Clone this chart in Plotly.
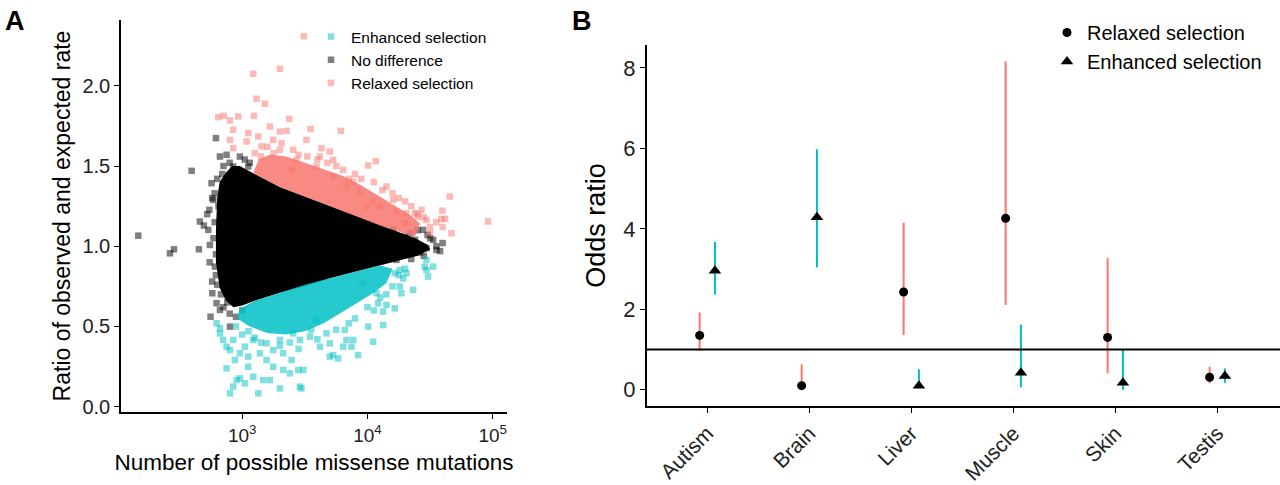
import numpy as np
import plotly.graph_objects as go

# ---------------- Panel A data (log10 of possible missense mutations, ratio) -------------
# dense cores of the three groups (outline of the solid point clouds)
core_nodiff_logx = [2.80, 2.82, 2.87, 2.92, 2.98, 3.05, 3.10, 3.30, 3.50, 3.70, 3.90, 4.10, 4.25, 4.38,
                    4.48, 4.50, 4.40, 4.25, 4.10, 3.90, 3.70, 3.50, 3.30, 3.10, 3.00, 2.93, 2.87, 2.82,
                    2.79, 2.79]
core_nodiff_y = [1.30, 1.40, 1.46, 1.50, 1.50, 1.47, 1.45, 1.37, 1.31, 1.25, 1.19, 1.13, 1.09, 1.05,
                 1.01, 0.98, 0.94, 0.91, 0.88, 0.84, 0.80, 0.75, 0.71, 0.66, 0.63, 0.62, 0.66, 0.74,
                 0.90, 1.10]

core_relaxed_logx = [3.09, 3.13, 3.22, 3.35, 3.50, 3.65, 3.80, 3.95, 4.10, 4.22, 4.35, 4.42, 4.38,
                     4.25, 4.10, 3.90, 3.70, 3.50, 3.30, 3.10]
core_relaxed_y = [1.46, 1.54, 1.57, 1.56, 1.52, 1.48, 1.44, 1.38, 1.31, 1.25, 1.19, 1.14, 1.06,
                  1.09, 1.13, 1.19, 1.25, 1.31, 1.37, 1.45]

core_enhanced_logx = [2.98, 3.10, 3.30, 3.50, 3.70, 3.90, 4.10, 4.20, 4.15, 4.05, 3.95, 3.80, 3.65,
                      3.50, 3.35, 3.20, 3.06, 2.96]
core_enhanced_y = [0.61, 0.66, 0.71, 0.76, 0.80, 0.84, 0.88, 0.86, 0.77, 0.71, 0.66, 0.59, 0.52,
                   0.47, 0.45, 0.46, 0.50, 0.55]

# individually visible genes around the cores
nodiff_pts = [
    (2.170, 1.066), (2.423, 0.956), (2.455, 0.981), (2.596, 1.470), (2.654, 0.981), (2.662, 1.154),
    (2.694, 1.129), (2.729, 1.102), (2.742, 1.008), (2.747, 0.561), (2.790, 1.674), (2.875, 1.570),
    (2.755, 1.393), (2.769, 1.289), (2.737, 1.227), (2.782, 0.873), (2.761, 0.707), (2.795, 0.645),
    (2.822, 0.603), (2.902, 0.499), (2.928, 1.497), (2.981, 1.559), (3.048, 1.497), (2.822, 1.559),
    (2.928, 1.372), (2.968, 1.434), (2.720, 1.200), (2.740, 0.900), (2.760, 0.780), (2.780, 1.330),
    (2.800, 1.420), (2.850, 1.500), (2.900, 1.520), (2.850, 0.620), (2.900, 0.580), (2.950, 0.560),
    (3.000, 0.600), (2.770, 1.050), (2.790, 0.950), (2.810, 1.250), (2.830, 0.700), (2.880, 0.650),
    (4.152, 1.081), (4.258, 1.040), (4.338, 1.081), (4.404, 0.988), (4.471, 0.988), (4.524, 1.040),
    (4.551, 0.977), (4.444, 1.102), (4.205, 1.102), (4.311, 0.956), (4.364, 1.019), (4.125, 0.936),
    (4.231, 0.915), (4.500, 1.050), (4.550, 1.000), (4.600, 1.020), (4.580, 0.970), (4.400, 1.100),
    (4.450, 0.940), (4.350, 0.920), (4.300, 1.060), (4.480, 1.070), (4.420, 0.960), (4.380, 1.040),
    (3.020, 1.540), (3.060, 1.520), (2.960, 1.480), (2.780, 1.150), (2.790, 0.820), (2.760, 1.300),
    (2.800, 0.760), (2.840, 1.450),
]

relaxed_pts = [
    (3.492, 2.308), (3.088, 2.075), (3.301, 2.106), (3.114, 1.919), (3.181, 1.888), (2.809, 1.805),
    (2.854, 1.813), (2.902, 1.784), (2.968, 1.809), (3.093, 1.813), (3.375, 1.794), (3.545, 1.730),
    (3.787, 1.719), (3.221, 1.746), (3.301, 1.715), (3.354, 1.719), (2.928, 1.726), (3.048, 1.705),
    (3.128, 1.684), (2.902, 1.663), (2.928, 1.611), (3.035, 1.653), (3.314, 1.642), (3.407, 1.601),
    (3.633, 1.611), (3.699, 1.590), (4.005, 1.503), (4.066, 1.530), (3.806, 1.476), (4.657, 1.310),
    (4.598, 1.222), (4.590, 1.170), (4.963, 1.154), (4.670, 1.081), (4.497, 1.081), (4.431, 1.227),
    (4.404, 1.185), (4.471, 1.164), (4.378, 1.206), (4.311, 1.206), (4.231, 1.216), (4.298, 1.143),
    (4.152, 1.372), (4.205, 1.289), (3.939, 1.331), (3.886, 1.403), (3.620, 1.559), (3.513, 1.663),
    (3.154, 1.622), (3.247, 1.663), (3.434, 1.538), (3.726, 1.435), (4.045, 1.289), (4.098, 1.247),
    (3.992, 1.247), (3.832, 1.372), (3.726, 1.538), (3.593, 1.497), (3.200, 1.620), (3.300, 1.600),
    (3.450, 1.570), (3.600, 1.540), (3.750, 1.500), (3.900, 1.450), (4.050, 1.400), (4.200, 1.330),
    (4.350, 1.250), (4.450, 1.180), (4.500, 1.120), (4.550, 1.150), (4.600, 1.120), (4.620, 1.170),
    (3.100, 1.580), (3.150, 1.560), (3.400, 1.480), (3.850, 1.420), (4.300, 1.280), (3.250, 1.580),
    (3.520, 1.560), (3.680, 1.520), (3.950, 1.420), (4.120, 1.350), (4.250, 1.300), (4.400, 1.200),
]

enhanced_pts = [
    (2.902, 0.083), (3.128, 0.083), (3.301, 0.114), (3.460, 0.125), (3.473, 0.114), (2.928, 0.125),
    (3.021, 0.146), (2.955, 0.166), (2.981, 0.177), (2.875, 0.239), (2.941, 0.291), (3.048, 0.249),
    (3.088, 0.187), (3.168, 0.166), (3.221, 0.166), (3.247, 0.249), (3.327, 0.229), (3.380, 0.208),
    (3.447, 0.229), (3.487, 0.229), (3.394, 0.291), (3.141, 0.333), (3.021, 0.374), (2.902, 0.353),
    (2.848, 0.416), (2.822, 0.489), (2.795, 0.520), (2.928, 0.416), (3.088, 0.416), (3.247, 0.353),
    (3.327, 0.333), (3.699, 0.312), (3.726, 0.322), (3.766, 0.301), (3.926, 0.322), (3.872, 0.374),
    (4.045, 0.405), (4.125, 0.509), (4.005, 0.499), (3.819, 0.478), (3.886, 0.416), (4.125, 0.593),
    (4.218, 0.613), (4.152, 0.634), (4.085, 0.644), (4.364, 0.728), (4.271, 0.707), (4.258, 0.749),
    (4.285, 0.800), (4.311, 0.832), (4.258, 0.852), (4.218, 0.832), (4.471, 0.915), (4.471, 0.852),
    (4.484, 0.811), (4.524, 0.873), (4.457, 0.873), (4.072, 0.707), (3.965, 0.769), (3.593, 0.541),
    (3.673, 0.457), (3.540, 0.437), (3.620, 0.374), (3.699, 0.395), (3.806, 0.374), (3.832, 0.416),
    (3.194, 0.395), (3.301, 0.416), (3.407, 0.457), (3.460, 0.416), (2.822, 0.457), (2.875, 0.374),
    (2.981, 0.333), (3.048, 0.312), (3.194, 0.291), (3.000, 0.450), (3.150, 0.400), (3.300, 0.380),
    (3.450, 0.360), (3.600, 0.420), (3.750, 0.480), (3.900, 0.550), (4.000, 0.620), (4.100, 0.680),
    (4.200, 0.750), (4.250, 0.820), (4.300, 0.860), (2.950, 0.500), (3.050, 0.470), (3.550, 0.480),
    (3.100, 0.430), (3.380, 0.400), (3.850, 0.520), (4.050, 0.600), (4.150, 0.700),
]

# ---------------- Panel B data ----------------
categories = ["Autism", "Brain", "Liver", "Muscle", "Skin", "Testis"]
relaxed_or = [1.35, 0.10, 2.43, 4.26, 1.30, 0.31]
relaxed_lo = [0.96, 0.04, 1.36, 2.11, 0.41, 0.16]
relaxed_hi = [1.92, 0.63, 4.15, 8.16, 3.27, 0.57]
enhanced_or = [2.96, 4.29, 0.10, 0.42, 0.17, 0.34]
enhanced_lo = [2.37, 3.04, 0.04, 0.06, 0.00, 0.17]
enhanced_hi = [3.67, 5.98, 0.51, 1.62, 1.00, 0.53]
reference_or = 1.0

# ---------------- styles ----------------
RED = "#F8766D"
CYAN = "#00BFC4"
FONT = "Liberation Sans, Arial, sans-serif"
W, H = 1280, 485

fig = go.Figure()


def px_dom(a, b, total):
    return [a / total, b / total]


def core_trace(lx, yy, color):
    return go.Scatter(x=10 ** np.array(lx), y=yy, mode="lines", fill="toself",
                      fillcolor=color, line=dict(width=0, color=color), hoverinfo="skip",
                      showlegend=False, xaxis="x", yaxis="y")


def pts_trace(pts, color, name, rank):
    lx, yy = zip(*pts)
    return go.Scatter(x=10 ** np.array(lx), y=list(yy), mode="markers", name=name,
                      marker=dict(symbol="square", size=6.5, color=color, opacity=0.5,
                                  line=dict(width=0)),
                      legendrank=rank, legend="legend", xaxis="x", yaxis="y")


fig.add_trace(core_trace(core_nodiff_logx, core_nodiff_y, "rgba(0,0,0,1)"))
fig.add_trace(pts_trace(nodiff_pts, "black", "No difference", 2))
fig.add_trace(core_trace(core_relaxed_logx, core_relaxed_y, "rgba(248,118,109,0.85)"))
fig.add_trace(pts_trace(relaxed_pts, RED, "Relaxed selection", 3))
fig.add_trace(core_trace(core_enhanced_logx, core_enhanced_y, "rgba(0,191,196,0.85)"))
fig.add_trace(pts_trace(enhanced_pts, CYAN, "Enhanced selection", 1))

# Panel B
dodge = 0.075
idx = np.arange(len(categories))
fig.add_trace(go.Scatter(
    x=idx - dodge, y=relaxed_or, mode="markers", name="Relaxed selection",
    marker=dict(symbol="circle", size=9, color="black"),
    error_y=dict(type="data", symmetric=False,
                 array=np.array(relaxed_hi) - np.array(relaxed_or),
                 arrayminus=np.array(relaxed_or) - np.array(relaxed_lo),
                 color=RED, thickness=2, width=0),
    legend="legend2", xaxis="x2", yaxis="y2"))
fig.add_trace(go.Scatter(
    x=idx + dodge, y=enhanced_or, mode="markers", name="Enhanced selection",
    marker=dict(symbol="triangle-up", size=11, color="black"),
    error_y=dict(type="data", symmetric=False,
                 array=np.array(enhanced_hi) - np.array(enhanced_or),
                 arrayminus=np.array(enhanced_or) - np.array(enhanced_lo),
                 color=CYAN, thickness=2, width=0),
    legend="legend2", xaxis="x2", yaxis="y2"))
fig.add_trace(go.Scatter(x=[-0.6, 5.62], y=[reference_or, reference_or], mode="lines",
                         line=dict(color="black", width=2), showlegend=False,
                         hoverinfo="skip", xaxis="x2", yaxis="y2"))

axis_common = dict(showline=True, linecolor="black", linewidth=1.6, ticks="outside",
                   ticklen=5, tickwidth=1.3, tickcolor="black", showgrid=False,
                   zeroline=False, mirror=False, automargin=False)

fig.update_layout(
    width=W, height=H, margin=dict(l=0, r=0, t=0, b=0),
    paper_bgcolor="white", plot_bgcolor="white",
    font=dict(family=FONT, color="black"),
    xaxis=dict(**axis_common, type="log", domain=px_dom(121, 507, W),
               range=[2.032, 5.114], tickvals=[1e3, 1e4, 1e5],
               ticktext=["10<sup>3</sup>", "10<sup>4</sup>", "10<sup>5</sup>"],
               tickfont=dict(size=19, color="#222"),
               title=dict(text="Number of possible missense mutations",
                          font=dict(size=22.5, color="black"), standoff=10),
               anchor="y"),
    yaxis=dict(**axis_common, domain=[1 - 412 / H, 1 - 20 / H], range=[-0.033, 2.41],
               tickvals=[0, 0.5, 1.0, 1.5, 2.0], ticktext=["0.0", "0.5", "1.0", "1.5", "2.0"],
               tickfont=dict(size=20, color="#222"),
               title=dict(text="Ratio of observed and expected rate",
                          font=dict(size=23, color="black"), standoff=5),
               anchor="x"),
    xaxis2=dict(**axis_common, domain=px_dom(646.7, 1280, W), range=[-0.594, 5.615],
                tickvals=list(idx), ticktext=categories, tickangle=-45,
                tickfont=dict(size=21, color="#222"), anchor="y2"),
    yaxis2=dict(**axis_common, domain=[1 - 406 / H, 1 - 45 / H], range=[-0.405, 8.57],
                tickvals=[0, 2, 4, 6, 8], tickfont=dict(size=22, color="#222"),
                title=dict(text="Odds ratio", font=dict(size=27, color="black"), standoff=10),
                anchor="x2"),
    legend=dict(x=311 / W, y=1 - 20 / H, xanchor="left", yanchor="top",
                font=dict(size=15.5), bgcolor="rgba(0,0,0,0)", tracegroupgap=0,
                itemwidth=30),
    legend2=dict(x=1047 / W, y=1 - 13 / H, xanchor="left", yanchor="top",
                 font=dict(size=20), bgcolor="rgba(0,0,0,0)", tracegroupgap=0,
                 itemwidth=30),
    annotations=[
        dict(text="<b>A</b>", x=3 / W, y=1 - 4 / H, xref="paper", yref="paper",
             xanchor="left", yanchor="top", showarrow=False, font=dict(size=27)),
        dict(text="<b>B</b>", x=570 / W, y=1 - 4 / H, xref="paper", yref="paper",
             xanchor="left", yanchor="top", showarrow=False, font=dict(size=27)),
    ],
)

fig.write_html("out.html")
